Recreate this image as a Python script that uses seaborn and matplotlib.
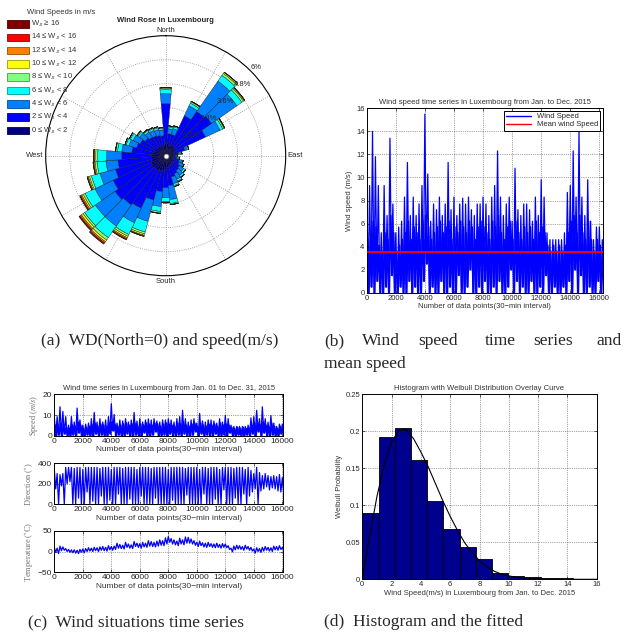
import numpy as np
import pandas as pd
import matplotlib
matplotlib.use('Agg')
import matplotlib.pyplot as plt
import seaborn as sns
from matplotlib.patches import Rectangle

W, H = 632, 639

# ---- wind rose: frequency (%) per 10 degree sector (compass, clockwise from North)
directions = np.arange(0, 360, 10)
ws_0_2 = [0.6, 0.6, 0.55, 0.6, 0.6, 0.55, 0.5, 0.45, 0.4, 0.35, 0.35, 0.4, 0.4, 0.45, 0.45, 0.5, 0.55, 0.6,
          0.7, 0.75, 0.8, 0.8, 0.8, 0.85, 0.8, 0.75, 0.7, 0.7, 0.65, 0.6, 0.6, 0.55, 0.55, 0.5, 0.5, 0.5]
ws_2_4 = [2.0, 0.5, 0.55, 1.6, 2.1, 2.25, 1.7, 0.55, 0.25, 0.15, 0.2, 0.3, 0.35, 0.4, 0.45, 0.5, 0.55, 0.9,
          0.9, 1.05, 1.5, 2.1, 2.2, 2.25, 2.1, 1.85, 1.7, 1.5, 1.05, 0.9, 0.8, 0.7, 0.6, 0.6, 0.55, 0.5]
ws_4_6 = [0.5, 0.25, 0.3, 0.55, 1.85, 1.55, 0.8, 0.12, 0.1, 0.05, 0.1, 0.15, 0.2, 0.25, 0.3, 0.3, 0.35, 0.7,
          0.5, 0.75, 1.1, 0.8, 1.3, 1.2, 1.0, 0.8, 0.6, 0.75, 0.5, 0.4, 0.4, 0.35, 0.3, 0.3, 0.3, 0.3]
ws_6_8 = [0.2, 0.1, 0.1, 0.15, 0.35, 0.3, 0.15, 0.06, 0.05, 0.02, 0.05, 0.05, 0.05, 0.1, 0.1, 0.1, 0.1, 0.2,
          0.2, 0.25, 0.55, 0.65, 0.7, 0.65, 0.55, 0.45, 0.45, 0.45, 0.22, 0.15, 0.15, 0.1, 0.1, 0.1, 0.1, 0.08]
ws_8_10 = [0.07, 0.05, 0.05, 0.07, 0.12, 0.1, 0.07, 0.02, 0.02, 0.01, 0.01, 0.01, 0.02, 0.02, 0.02, 0.05, 0.05, 0.05,
           0.05, 0.08, 0.1, 0.1, 0.15, 0.1, 0.1, 0.1, 0.1, 0.1, 0.08, 0.05, 0.05, 0.05, 0.05, 0.05, 0.05, 0.04]
ws_10_12 = [0.03, 0, 0, 0.03, 0.06, 0.05, 0.03, 0, 0, 0, 0, 0, 0, 0, 0, 0, 0, 0.01,
            0.01, 0.02, 0.07, 0.08, 0.1, 0.1, 0.08, 0.06, 0.05, 0.06, 0.02, 0.01, 0.01, 0.01, 0, 0, 0, 0]
ws_12_14 = [0, 0, 0, 0, 0.02, 0.03, 0.01, 0, 0, 0, 0, 0, 0, 0, 0, 0, 0, 0,
            0, 0, 0.04, 0.06, 0.07, 0.07, 0.06, 0.04, 0.03, 0.03, 0, 0, 0, 0, 0, 0, 0, 0]
ws_14_16 = [0, 0, 0, 0, 0, 0, 0, 0, 0, 0, 0, 0, 0, 0, 0, 0, 0, 0,
            0, 0, 0.02, 0.04, 0.05, 0.05, 0.04, 0.02, 0.02, 0.02, 0, 0, 0, 0, 0, 0, 0, 0]
ws_16_up = [0, 0, 0, 0, 0, 0, 0, 0, 0, 0, 0, 0, 0, 0, 0, 0, 0, 0,
            0, 0, 0, 0.02, 0.03, 0.03, 0.02, 0, 0, 0, 0, 0, 0, 0, 0, 0, 0, 0]
rose_bins = [ws_0_2, ws_2_4, ws_4_6, ws_6_8, ws_8_10, ws_10_12, ws_12_14, ws_14_16, ws_16_up]
rose_colors = ['#000080', '#0000FF', '#0080FF', '#00FFFF', '#80FF80', '#FFFF00', '#FF8000', '#FF0000', '#800000']
rose_labels = ['0 ≤ W$_{\\mathsf{S}}$ < 2', '2 ≤ W$_{\\mathsf{S}}$ < 4', '4 ≤ W$_{\\mathsf{S}}$ < 6',
               '6 ≤ W$_{\\mathsf{S}}$ < 8', '8 ≤ W$_{\\mathsf{S}}$ < 10', '10 ≤ W$_{\\mathsf{S}}$ < 12',
               '12 ≤ W$_{\\mathsf{S}}$ < 14', '14 ≤ W$_{\\mathsf{S}}$ < 16', 'W$_{\\mathsf{S}}$ ≥ 16']
rings = [1.2, 2.4, 3.6, 4.8, 6]

# ---- time series envelopes, one high and one low value per 200 samples
sample_idx = np.arange(0, 16201, 200)
speed_hi = [9.3, 9.3, 14.0, 11.8, 9.3, 5.2, 9.3, 6.7, 13.4, 7.7, 5.2, 5.7, 6.2, 8.3, 11.3, 6.7, 8.3, 6.7, 7.7, 9.3,
            15.5, 10.3, 6.2, 7.7, 7.2, 8.3, 6.7, 7.7, 11.3, 7.2, 8.3, 6.7, 7.7, 8.2, 7.7, 8.3, 7.2, 6.7, 7.7, 7.7,
            8.3, 7.7, 6.7, 8.3, 9.3, 12.3, 8.3, 6.7, 7.7, 8.3, 6.2, 10.8, 7.2, 6.7, 7.7, 7.7, 7.2, 6.2, 8.3, 6.7,
            9.8, 8.3, 5.2, 4.6, 4.6, 4.6, 4.6, 4.6, 5.2, 8.7, 9.3, 12.3, 8.3, 14.0, 8.3, 6.7, 9.8, 6.2, 4.6, 5.7,
            5.7, 4.6]
# typical top of the dense part of the trace
speed_mid = [5.2, 4.6, 6.2, 5.7, 4.1, 3.6, 5.2, 4.6, 6.7, 5.2, 3.6, 4.1, 4.6, 5.2, 6.2, 4.6, 5.7, 5.2, 4.6, 6.2,
             6.7, 5.7, 4.6, 5.2, 5.7, 6.2, 5.2, 5.7, 6.2, 4.6, 5.7, 5.2, 6.2, 5.7, 5.2, 6.2, 5.7, 4.6, 5.7, 6.2,
             5.7, 5.2, 4.6, 6.2, 5.7, 6.7, 5.2, 4.6, 5.7, 6.2, 4.6, 6.2, 5.2, 4.6, 5.7, 5.2, 5.7, 4.6, 6.2, 5.2,
             5.7, 5.2, 4.1, 3.6, 4.1, 3.6, 4.1, 3.6, 4.1, 5.2, 6.2, 6.7, 5.2, 6.7, 5.2, 4.6, 6.2, 4.6, 3.6, 4.6,
             4.1, 3.6]
speed_lo = [0, 0.5, 0, 1.0, 0, 0, 0.5, 0, 1.5, 0, 0, 0.5, 0, 0, 1.0, 0, 0.5, 0, 0, 1.0,
            2.5, 0, 0.5, 0, 0, 1.0, 0, 0, 0.5, 0, 0, 1.5, 0, 0, 0.5, 2.0, 0, 0, 0.5, 0,
            1.0, 0, 0, 0.5, 0, 1.0, 0, 0, 0.5, 2.0, 0, 1.0, 0, 0.5, 0, 0, 1.0, 0, 0, 0.5,
            0, 1.5, 0, 0, 0.5, 0, 0, 0.5, 0, 1.0, 0, 2.0, 0, 1.5, 0, 0, 0.5, 0, 0, 1.0,
            0, 0.5]
mean_speed = 3.55

dir_hi = [340, 300, 290, 300, 360, 360, 360, 350, 360, 360, 340, 360, 360, 360, 360, 360, 350, 360, 360, 360,
          340, 360, 360, 360, 350, 360, 360, 360, 360, 340, 360, 360, 360, 360, 350, 360, 360, 360, 360, 360,
          340, 360, 360, 360, 360, 360, 350, 360, 360, 360, 360, 340, 360, 360, 350, 360, 360, 360, 340, 360,
          360, 360, 360, 350, 360, 360, 360, 340, 360, 330, 300, 360, 310, 280, 300, 280, 270, 280, 270, 290,
          260, 240]
dir_lo = [150, 0, 180, 0, 200, 220, 0, 0, 60, 0, 0, 120, 0, 30, 0, 0, 80, 0, 0, 40,
          0, 0, 100, 0, 0, 0, 50, 0, 0, 0, 80, 0, 0, 0, 0, 60, 0, 0, 0, 0,
          0, 40, 0, 0, 0, 0, 90, 0, 0, 0, 0, 0, 100, 0, 0, 0, 50, 0, 0, 140,
          0, 0, 0, 60, 0, 0, 100, 0, 80, 120, 150, 0, 130, 150, 170, 140, 160, 150, 130, 120,
          100, 160]

temp_hi = [10, 8, 13, 11, 7, 5, 4, 4, 3, 5, 6, 7, 9, 8, 10, 9, 11, 12, 10, 14,
           12, 13, 20, 17, 15, 22, 18, 16, 24, 20, 19, 22, 20, 26, 24, 22, 25, 28, 26, 33,
           36, 31, 28, 25, 32, 28, 35, 34, 30, 26, 22, 25, 21, 20, 22, 19, 18, 20, 17, 19,
           18, 14, 8, 13, 15, 14, 12, 15, 12, 10, 6, 9, 7, 10, 12, 10, 9, 13, 12, 14,
           10, 8]
temp_lo = [-2, -5, 2, 3, 0, -2, -3, -4, -5, -2, -3, 0, 1, 0, 2, 0, 3, 2, 1, 4,
           3, 5, 8, 7, 6, 10, 8, 7, 12, 10, 8, 11, 10, 13, 12, 11, 13, 15, 14, 18,
           22, 18, 16, 14, 18, 16, 20, 20, 18, 15, 12, 14, 11, 10, 12, 10, 9, 10, 8, 10,
           9, 5, -1, 4, 6, 5, 3, 6, 3, 1, -4, 0, -2, 1, 3, 1, 0, 4, 3, 5,
           2, 0]

# ---- histogram of wind speed (probability per bin) and fitted Weibull curve
n_bins = 14
bin_max = 15.5
bin_prob = [0.090, 0.192, 0.205, 0.161, 0.106, 0.068, 0.043, 0.028, 0.008, 0.005, 0.0027, 0.0018, 0.0013, 0.001]
weib_x = [0, 0.5, 1, 1.5, 2, 2.5, 3, 3.5, 4, 4.5, 5, 5.5, 6, 6.5, 7, 7.5, 8, 8.5, 9, 9.5, 10, 11, 12, 13, 14, 15, 16]
weib_y = [0, 0.058, 0.112, 0.155, 0.186, 0.201, 0.202, 0.190, 0.172, 0.152, 0.129, 0.106, 0.085, 0.066, 0.049,
          0.036, 0.025, 0.017, 0.011, 0.007, 0.0045, 0.0016, 0.0005, 0.0001, 0, 0, 0]

sns.set_style('ticks')
plt.rcParams['font.family'] = ['Liberation Sans', 'DejaVu Sans']
plt.rcParams['mathtext.fontset'] = 'stix'
FS = 5.5
SERIF = ['Liberation Serif', 'DejaVu Serif']


def rect(l, t, r, b):
    return [l / W, 1 - b / H, (r - l) / W, (b - t) / H]


def zigzag(hi, lo, shift=0):
    xs = np.column_stack([sample_idx + shift, sample_idx + shift + 100]).ravel()
    ys = np.column_stack([hi, lo]).ravel()
    return xs, ys


def matlab_axes(ax):
    ax.tick_params(direction='in', top=True, right=True, labelsize=FS, length=2.5, width=0.5, pad=1.5)
    for s in ax.spines.values():
        s.set_visible(True)
        s.set_linewidth(0.7)
        s.set_color('k')
    ax.grid(True, linestyle=':', color='0.3', linewidth=0.5)
    ax.set_axisbelow(True)


def speed_trace(ax, lw, label=None):
    xs, ys = zigzag(speed_mid, speed_lo, shift=50)
    sns.lineplot(x=xs, y=ys, ax=ax, color='#0000FF', lw=lw + 0.4, estimator=None, zorder=2)
    xs, ys = zigzag(speed_hi, speed_lo)
    sns.lineplot(x=xs, y=ys, ax=ax, color='#0000FF', lw=lw, label=label, estimator=None, zorder=2)


fig = plt.figure(figsize=(W / 100, H / 100), dpi=100)

# ---------------- (a) wind rose
ax = fig.add_axes(rect(45.7, 35.7, 285.7, 275.7), projection='polar')
ax.set_theta_zero_location('N')
ax.set_theta_direction(-1)
theta = np.radians(directions)
full = np.linspace(0, 2 * np.pi, 300)
for r in rings[:-1]:
    ax.plot(full, np.full_like(full, r), ':', color='0.55', lw=0.6, zorder=1)
for t in np.radians(np.arange(0, 360, 30)):
    ax.plot([t, t], [0, 6], ':', color='0.55', lw=0.6, zorder=1)
bottom = np.zeros(len(directions))
for vals, col in zip(rose_bins, rose_colors):
    vals = np.array(vals)
    ax.bar(theta, vals, width=np.radians(10), bottom=bottom, color=col,
           edgecolor='#1a1a1a', linewidth=0.3, zorder=3)
    bottom = bottom + vals
ax.plot(0, 0, 'o', ms=3.5, mfc='white', mec='0.5', mew=0.5, zorder=5)
ax.set_ylim(0, 6)
ax.set_xticks([])
ax.set_yticks([])
ax.grid(False)
ax.spines['polar'].set_linewidth(0.8)
ax.spines['polar'].set_color('k')
for r in rings:
    ax.text(np.radians(45), r, f'{r:g}%', ha='left', va='bottom', fontsize=FS, zorder=6)
ax.text(0, 6.1, 'North', ha='center', va='bottom', fontsize=FS)
ax.text(np.pi, 6.1, 'South', ha='center', va='top', fontsize=FS)
ax.text(np.pi / 2, 6.1, 'East', ha='left', va='center', fontsize=FS)
ax.text(3 * np.pi / 2, 6.1, 'West', ha='right', va='center', fontsize=FS)
fig.text(165 / W, 1 - 20 / H, 'Wind Rose in Luxembourg', ha='center', va='center', fontsize=FS, fontweight='bold')

# legend of speed bins
fig.text(61 / W, 1 - 13 / H, 'Wind Speeds in m/s', ha='center', va='center', fontsize=FS, color='0.2')
for i, (lab, col) in enumerate(zip(rose_labels[::-1], rose_colors[::-1])):
    yc = 24 + i * 13.3
    edge = tuple(0.6 * np.array(matplotlib.colors.to_rgb(col)))
    fig.patches.append(Rectangle((7.3 / W, 1 - (yc + 3.8) / H), 21.7 / W, 7.6 / H, transform=fig.transFigure,
                                 facecolor=col, edgecolor=edge, linewidth=0.6))
    fig.text(31 / W, 1 - yc / H, lab, ha='left', va='center', fontsize=FS, color='0.2')

# ---------------- (b) wind speed time series
ax = fig.add_axes(rect(366.7, 108.3, 602.7, 292.7))
speed_trace(ax, 0.9, label='Wind Speed')
ax.axhline(mean_speed, color='#FF0000', lw=1.3, label='Mean wind Speed', zorder=3)
ax.set_xlim(0, 16230)
ax.set_ylim(0, 16)
ax.set_xticks(np.arange(0, 16001, 2000))
ax.set_yticks(np.arange(0, 17, 2))
matlab_axes(ax)
ax.set_title('Wind speed time series in Luxembourg from Jan. to Dec. 2015', fontsize=FS, pad=3, color='0.2')
ax.set_xlabel('Number of data points(30\u2212min interval)', fontsize=FS, labelpad=1, color='0.2')
ax.set_ylabel('Wind speed (m/s)', fontsize=FS, labelpad=2, color='0.2')
leg = ax.legend(loc='upper right', fontsize=FS, frameon=True, fancybox=False, edgecolor='k',
                framealpha=1, borderpad=0.3, handlelength=3.2, labelspacing=0.1, borderaxespad=0.3)
leg.get_frame().set_linewidth(0.7)
for h in leg.get_lines():
    h.set_linewidth(1.0)

# ---------------- (c) wind situations
c_rows = [(394.3, 436.0), (463.3, 504.3), (530.7, 572.3)]
c_series = [(speed_hi, speed_lo), (dir_hi, dir_lo), (temp_hi, temp_lo)]
c_ylim = [(0, 20), (0, 400), (-50, 50)]
c_yticks = [[0, 10, 20], [0, 200, 400], [-50, 0, 50]]
c_ylabels = ['Speed ($m/s$)', 'Direction ($^{\\circ}$)', 'Temperature ($^{\\circ}$C)']
for k, ((t, b), (hi, lo)) in enumerate(zip(c_rows, c_series)):
    ax = fig.add_axes(rect(54.3, t, 283.3, b))
    if k == 0:
        speed_trace(ax, 0.9)
    else:
        xs, ys = zigzag(hi, lo)
        sns.lineplot(x=xs, y=ys, ax=ax, color='#0000FF', lw=0.9, estimator=None)
    ax.set_xlim(0, 16070)
    ax.set_ylim(*c_ylim[k])
    ax.set_xticks(np.arange(0, 16001, 2000))
    ax.set_yticks(c_yticks[k])
    matlab_axes(ax)
    ax.tick_params(labelsize=FS + 0.5)
    ax.set_xlabel('Number of data points(30\u2212min interval)', fontsize=FS + 0.5, labelpad=1, color='0.2')
    ax.set_ylabel(c_ylabels[k], fontsize=FS + 0.5, family=SERIF, color='0.45', labelpad=2)
    if k == 0:
        ax.set_title('Wind time series in Luxembourg from Jan. 01 to Dec. 31, 2015', fontsize=FS, pad=3, color='0.2')

# ---------------- (d) histogram with Weibull curve
ax = fig.add_axes(rect(362.3, 394.3, 596.7, 579.3))
bin_width = bin_max / n_bins
hist_df = pd.DataFrame({'speed': (np.arange(n_bins) + 0.5) * bin_width, 'prob': bin_prob})
sns.histplot(data=hist_df, x='speed', weights='prob', bins=n_bins, binrange=(0, bin_max), ax=ax,
             color='#00008F', edgecolor='k', linewidth=0.6, alpha=1)
sns.lineplot(x=weib_x, y=weib_y, ax=ax, color='k', lw=0.8)
ax.set_xlim(0, 16)
ax.set_ylim(0, 0.25)
ax.set_xticks(np.arange(0, 17, 2))
ax.set_yticks([0, 0.05, 0.1, 0.15, 0.2, 0.25])
ax.set_yticklabels(['0', '0.05', '0.1', '0.15', '0.2', '0.25'])
matlab_axes(ax)
ax.set_title('Histogram with Weibull Distribution Overlay Curve', fontsize=FS, pad=3, color='0.2')
ax.set_xlabel('Wind Speed(m/s) in Luxembourg from Jan. to Dec. 2015', fontsize=FS, labelpad=1, color='0.2')
ax.set_ylabel('Weibull Probability', fontsize=FS, labelpad=2, color='0.2')

# ---------------- captions
CFS = 12.5
fig.text(160 / W, 1 - 341 / H, '(a)  WD(North=0) and speed(m/s)', ha='center', va='center', fontsize=CFS, family=SERIF)
for word, x in zip(['(b)', 'Wind', 'speed', 'time', 'series', 'and'], [324, 362, 418, 485, 533, 596]):
    fig.text(x / W, 1 - 341 / H, word, ha='left', va='center', fontsize=CFS, family=SERIF)
fig.text(324 / W, 1 - 364 / H, 'mean speed', ha='left', va='center', fontsize=CFS, family=SERIF)
fig.text(28 / W, 1 - 622 / H, '(c)  Wind situations time series', ha='left', va='center', fontsize=CFS, family=SERIF)
fig.text(324 / W, 1 - 622 / H, '(d)  Histogram and the fitted', ha='left', va='center', fontsize=CFS, family=SERIF)

fig.savefig('out.png', dpi=100)
